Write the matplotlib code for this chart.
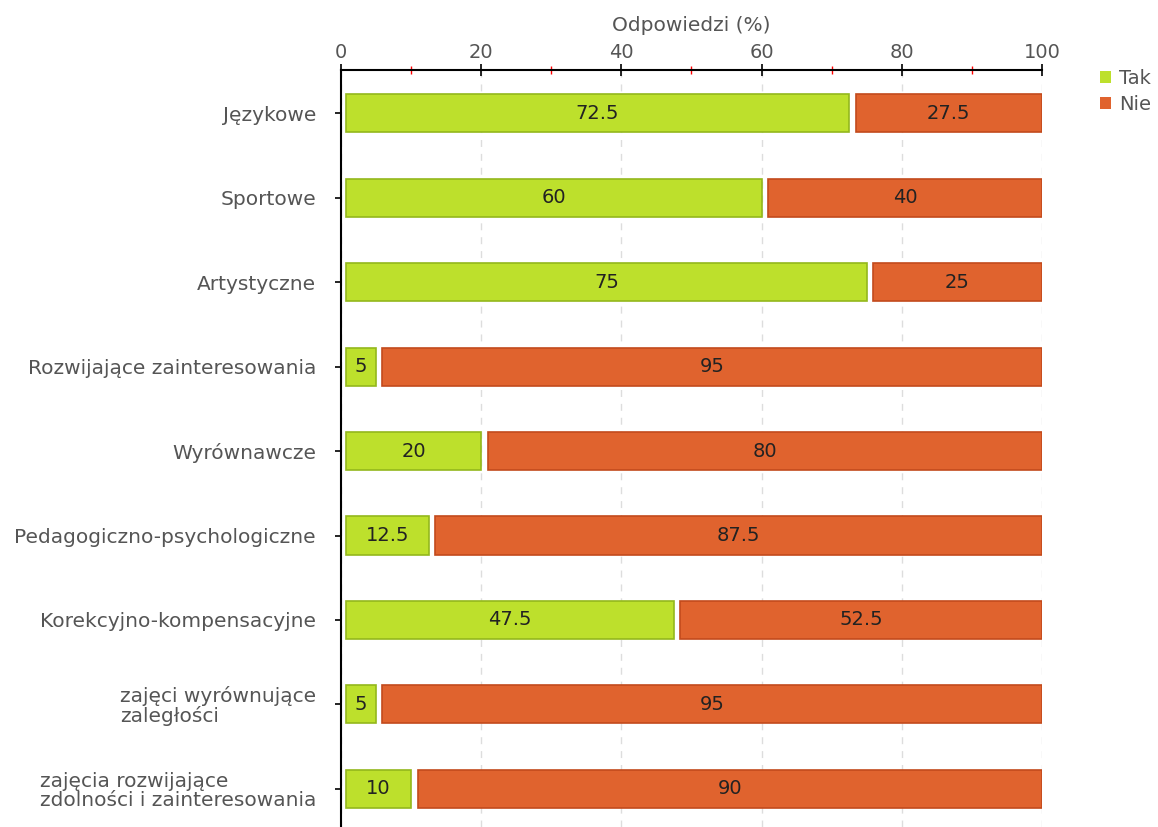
import matplotlib
matplotlib.use("Agg")
import matplotlib.pyplot as plt
from matplotlib.ticker import MultipleLocator
from matplotlib.patches import Patch

categories = ["Językowe", "Sportowe", "Artystyczne", "Rozwijające zainteresowania",
              "Wyrównawcze", "Pedagogiczno-psychologiczne", "Korekcyjno-kompensacyjne",
              "zajęci wyrównujące\nzaległości", "zajęcia rozwijające\nzdolności i zainteresowania"]
tak = [72.5, 60, 75, 5, 20, 12.5, 47.5, 5, 10]
nie = [27.5, 40, 25, 95, 80, 87.5, 52.5, 95, 90]
series_names = ["Tak", "Nie"]
xticks = [0, 20, 40, 60, 80, 100]

green, green_edge = "#BDE02C", "#93B81C"
orange, orange_edge = "#E0632E", "#C24A1C"
txt_grey = "#555555"

plt.rcParams['font.family'] = ['DejaVu Sans']
fig = plt.figure(figsize=(11.58, 8.27), dpi=100)
ax = fig.add_axes([0.2945, 0.0, 0.6053, 0.9154])

y = list(range(len(categories)))
h = 0.45
b1 = ax.barh(y, tak, height=h, color=green, edgecolor=green_edge, linewidth=1.2, zorder=3)
b2 = ax.barh(y, nie, left=tak, height=h, color=orange, edgecolor=orange_edge, linewidth=1.2, zorder=3)

inset = 0.7
for cont, vals in ((b1, tak), (b2, nie)):
    for p, v in zip(cont.patches, vals):
        d = inset if cont is b1 else inset * 1.3
        p.set_x(p.get_x() + d)
        p.set_width(p.get_width() - d)
        cx = p.get_x() + p.get_width() / 2
        cy = p.get_y() + p.get_height() / 2
        ax.text(cx, cy, f"{v:g}", ha="center", va="center", fontsize=14, color="#222222", zorder=4)

ax.set_xlim(0, 100)
ax.set_ylim(8.45, -0.51)
ax.set_yticks(y)
ax.set_yticklabels(categories, fontsize=14.5, color=txt_grey, linespacing=1.0)
for lbl in ax.get_yticklabels():
    lbl.set_multialignment("left")
ax.xaxis.tick_top()
ax.xaxis.set_label_position("top")
ax.set_xticks(xticks)
ax.set_xticklabels([str(t) for t in xticks], fontsize=14, color=txt_grey)
ax.xaxis.set_minor_locator(MultipleLocator(10))
ax.tick_params(axis="x", which="major", direction="inout", length=9, width=1.2, color="black", pad=1)
ax.tick_params(axis="x", which="minor", direction="inout", length=6, width=1, color="red")
ax.tick_params(axis="y", length=4, width=1.2, pad=14)
ax.set_xlabel("Odpowiedzi (%)", fontsize=14.5, color=txt_grey, labelpad=9)

for s in ("right", "bottom"):
    ax.spines[s].set_visible(False)
ax.spines["top"].set_linewidth(1.5)
ax.spines["left"].set_linewidth(1.5)
ax.grid(axis="x", which="major", linestyle=(0, (5, 5)), color="#DDDDDD", linewidth=1, zorder=0)
ax.set_axisbelow(True)

handles = [Patch(facecolor=green, edgecolor="none"), Patch(facecolor=orange, edgecolor="none")]
fig.legend(handles, series_names, loc="upper left", bbox_to_anchor=(0.943, 0.926), frameon=False,
           fontsize=14, handlelength=0.6, handleheight=0.6, handletextpad=0.4, labelspacing=0.35,
           labelcolor=txt_grey, borderaxespad=0)

fig.savefig("out.png", dpi=100)
